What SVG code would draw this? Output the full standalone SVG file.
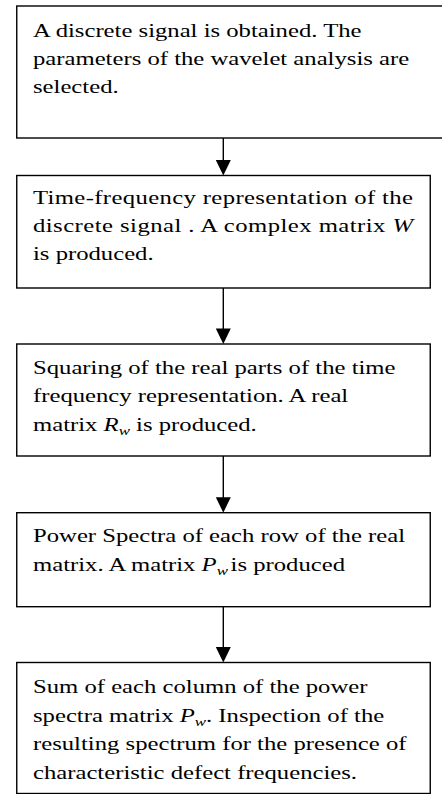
<svg xmlns="http://www.w3.org/2000/svg" width="442" height="794" viewBox="0 0 442 794">
<style>
.box{fill:#fff;stroke:#000;stroke-width:1.4}
.t{font-family:"Liberation Serif","Times New Roman",serif;font-size:19px;fill:#000}
.i{font-style:italic}
.sub{font-style:italic;font-size:13px}
.conn line{stroke:#000;stroke-width:1.4}
.conn polygon{fill:#000}
</style>
<rect width="442" height="794" fill="#fff"/>
<g id="node1">
<rect class="box" x="16.75" y="6" width="432" height="132"/>
<g transform="translate(33,0) scale(1.3,1)">
<text class="t" x="0" y="37">A discrete signal is obtained. The</text>
<text class="t" x="0" y="65">parameters of the wavelet analysis are</text>
<text class="t" x="0" y="93">selected.</text>
</g>
</g>
<g id="node2">
<rect class="box" x="16.75" y="175.5" width="413.5" height="112.5"/>
<g transform="translate(33,0) scale(1.3,1)">
<text class="t" x="0" y="204.5" textLength="292.3" lengthAdjust="spacing">Time-frequency representation of the</text>
<text class="t" x="0" y="232.5" textLength="292.3" lengthAdjust="spacing">discrete signal . A complex matrix <tspan class="i">W</tspan></text>
<text class="t" x="0" y="260.5">is produced.</text>
</g>
</g>
<g id="node3">
<rect class="box" x="16.75" y="344" width="413.5" height="112"/>
<g transform="translate(33,0) scale(1.3,1)">
<text class="t" x="0" y="374.5">Squaring of the real parts of the time</text>
<text class="t" x="0" y="402.5">frequency representation. A real</text>
<text class="t" x="0" y="431">matrix <tspan class="i">R</tspan><tspan class="sub" dy="4">w</tspan><tspan dy="-4"> is produced.</tspan></text>
</g>
</g>
<g id="node4">
<rect class="box" x="16.75" y="512.7" width="413.5" height="94"/>
<g transform="translate(33,0) scale(1.3,1)">
<text class="t" x="0" y="542.5">Power Spectra of each row of the real</text>
<text class="t" x="0" y="571.3">matrix. A matrix  <tspan class="i">P</tspan><tspan class="sub" dy="4">w</tspan><tspan dx="2" dy="-4">is produced</tspan></text>
</g>
</g>
<g id="node5">
<rect class="box" x="16.75" y="662.5" width="413.5" height="131"/>
<g transform="translate(33,0) scale(1.3,1)">
<text class="t" x="0" y="693.5">Sum of each column of the power</text>
<text class="t" x="0" y="722">spectra matrix <tspan class="i">P</tspan><tspan class="sub" dy="4">w</tspan><tspan dy="-4">. Inspection of the</tspan></text>
<text class="t" x="0" y="750.5">resulting spectrum for the presence of</text>
<text class="t" x="0" y="779">characteristic defect frequencies.</text>
</g>
</g>
<g id="connectors" class="conn">
<line x1="223.3" y1="138" x2="223.3" y2="161"/>
<polygon points="215.8,160 230.8,160 223.3,175.5"/>
<line x1="223.3" y1="288" x2="223.3" y2="329"/>
<polygon points="215.8,328.5 230.8,328.5 223.3,344"/>
<line x1="223.3" y1="456" x2="223.3" y2="498"/>
<polygon points="215.8,497.2 230.8,497.2 223.3,512.7"/>
<line x1="223.3" y1="606.7" x2="223.3" y2="648"/>
<polygon points="215.8,647 230.8,647 223.3,662.5"/>
</g>
</svg>
